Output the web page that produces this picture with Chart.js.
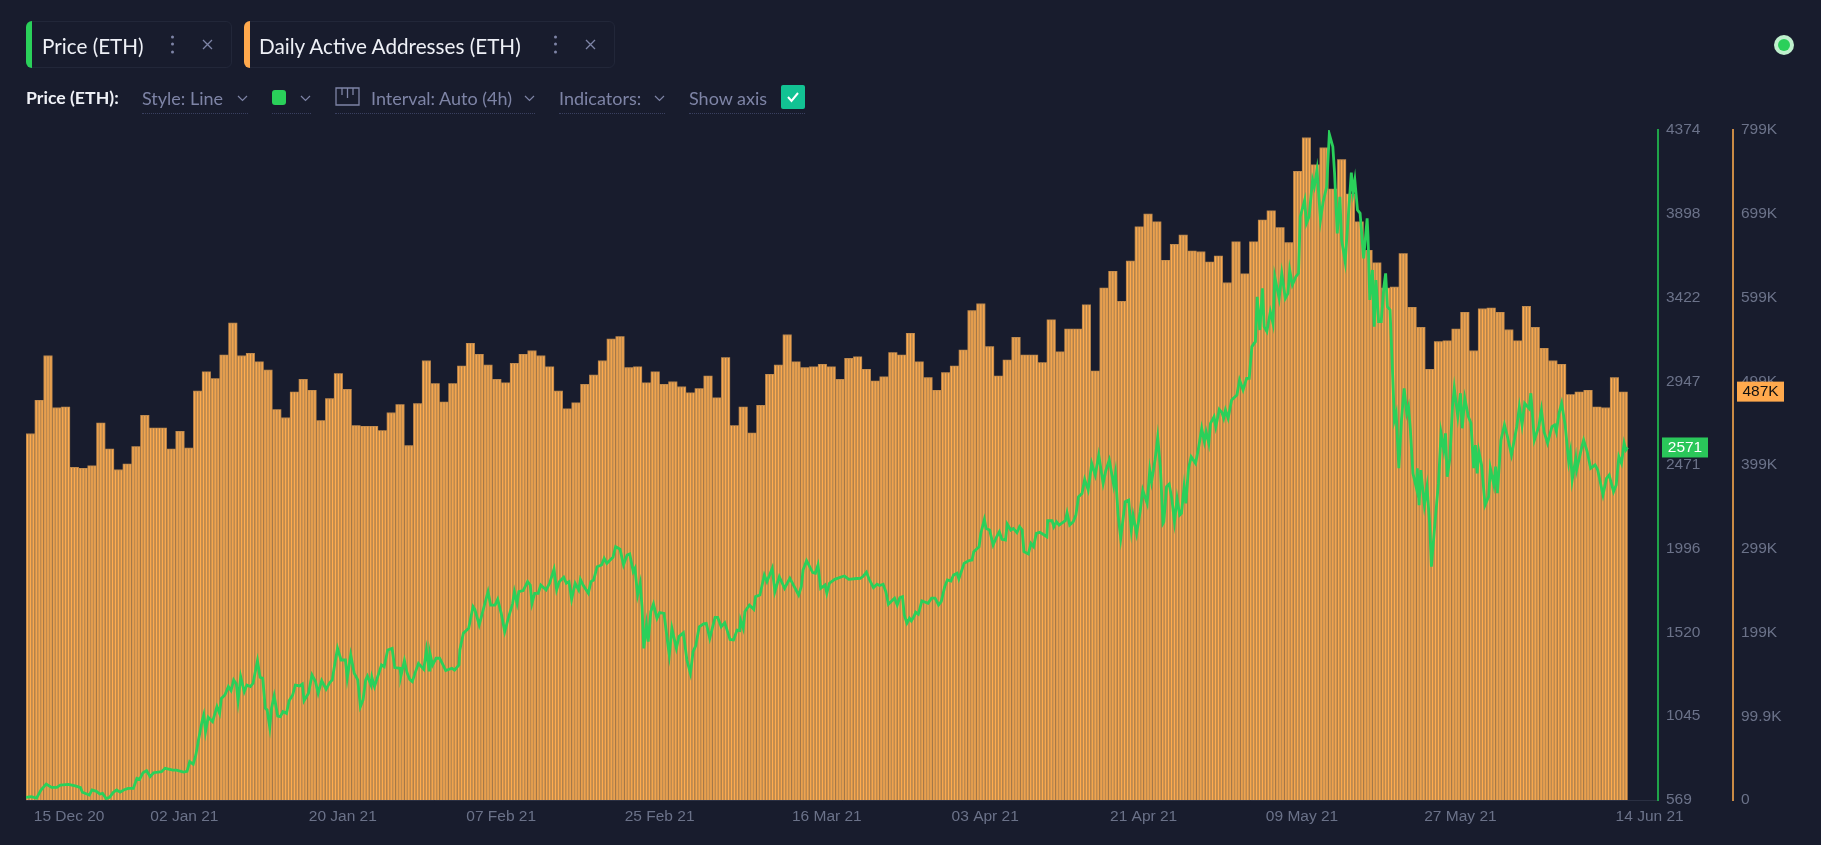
<!DOCTYPE html>
<html>
<head>
<meta charset="utf-8">
<title>Price (ETH) / Daily Active Addresses (ETH)</title>
<script src="https://cdn.jsdelivr.net/npm/chart.js@4"></script>
<style>
  html, body { margin: 0; padding: 0; background: #181c2d; overflow: hidden; }
  #wrap { position: relative; width: 1821px; height: 845px; font-family: Lato, sans-serif; border-left: 0; }
  #chart { position: absolute; left: 0; top: 0; }
  .abs { position: absolute; white-space: nowrap; }
  .chip { position: absolute; top: 21px; height: 47px; border: 1px solid #222739; border-radius: 6px; box-sizing: border-box; }
  .chip i { position: absolute; left: -1px; top: -1px; bottom: -1px; width: 6px; border-radius: 6px 0 0 6px; }
  .title { color: #eef0f6; font-size: 20.7px; top: 34px; line-height: 24px; }
  .ctl { color: #7e84a6; font-size: 18px; top: 87px; line-height: 22px; }
  .under { position: absolute; top: 113px; height: 0; border-top: 1px dotted #3a4060; }
  svg { position: absolute; }
</style>
</head>
<body>
<div id="wrap">
  <canvas id="chart" width="1821" height="845"></canvas>

  <div class="chip" style="left:26px;width:206px"><i style="background:#2ad05a"></i></div>
  <div class="abs title" style="left:42px">Price (ETH)</div>
  <svg style="left:170px;top:34px" width="5" height="22"><circle cx="2.5" cy="3" r="1.5" fill="#7e84a6"/><circle cx="2.5" cy="10" r="1.5" fill="#7e84a6"/><circle cx="2.5" cy="18" r="1.5" fill="#7e84a6"/></svg>
  <svg style="left:202px;top:39px" width="11" height="11"><path d="M1 1L10 10M10 1L1 10" stroke="#7e84a6" stroke-width="1.3"/></svg>

  <div class="chip" style="left:244px;width:371px"><i style="background:#ffa94d"></i></div>
  <div class="abs title" style="left:259px">Daily Active Addresses (ETH)</div>
  <svg style="left:553px;top:34px" width="5" height="22"><circle cx="2.5" cy="3" r="1.5" fill="#7e84a6"/><circle cx="2.5" cy="10" r="1.5" fill="#7e84a6"/><circle cx="2.5" cy="18" r="1.5" fill="#7e84a6"/></svg>
  <svg style="left:585px;top:39px" width="11" height="11"><path d="M1 1L10 10M10 1L1 10" stroke="#7e84a6" stroke-width="1.3"/></svg>

  <div class="abs ctl" style="left:26px;color:#eef0f6;font-weight:700;font-size:17.7px">Price (ETH):</div>
  <div class="abs ctl" style="left:142px">Style: Line</div>
  <svg style="left:237px;top:95px" width="11" height="7"><path d="M1 1L5.5 5.5L10 1" fill="none" stroke="#7e84a6" stroke-width="1.2"/></svg>
  <div class="under" style="left:142px;width:106px"></div>
  <div class="abs" style="left:272px;top:90px;width:14px;height:15px;border-radius:3px;background:#2ad05a"></div>
  <svg style="left:300px;top:95px" width="11" height="7"><path d="M1 1L5.5 5.5L10 1" fill="none" stroke="#7e84a6" stroke-width="1.2"/></svg>
  <div class="under" style="left:272px;width:39px"></div>
  <svg style="left:335px;top:87px" width="25" height="19"><path d="M1 1H24V18H1Z M7 1V8 M12.5 1V11 M18 1V8" fill="none" stroke="#7e84a6" stroke-width="1.3"/></svg>
  <div class="abs ctl" style="left:371px">Interval: Auto (4h)</div>
  <svg style="left:524px;top:95px" width="11" height="7"><path d="M1 1L5.5 5.5L10 1" fill="none" stroke="#7e84a6" stroke-width="1.2"/></svg>
  <div class="under" style="left:335px;width:200px"></div>
  <div class="abs ctl" style="left:559px">Indicators:</div>
  <svg style="left:654px;top:95px" width="11" height="7"><path d="M1 1L5.5 5.5L10 1" fill="none" stroke="#7e84a6" stroke-width="1.2"/></svg>
  <div class="under" style="left:559px;width:106px"></div>
  <div class="abs ctl" style="left:689px">Show axis</div>
  <div class="abs" style="left:781px;top:85px;width:24px;height:24px;border-radius:2px;background:#12c293"></div>
  <svg style="left:786px;top:91px" width="14" height="12"><path d="M2 6L5.5 10L12 2" fill="none" stroke="#ffffff" stroke-width="2"/></svg>
  <div class="under" style="left:689px;width:116px"></div>

  <div class="abs" style="left:1774px;top:35px;width:20px;height:20px;border-radius:50%;background:#bff0cd"></div>
  <div class="abs" style="left:1778px;top:39px;width:12px;height:12px;border-radius:50%;background:#2ad05a"></div>
</div>
<script>
// time axis labels, positions in days after 15 Dec 20
const tickLabels = ['15 Dec 20', '02 Jan 21', '20 Jan 21', '07 Feb 21', '25 Feb 21', '16 Mar 21', '03 Apr 21', '21 Apr 21', '09 May 21', '27 May 21', '14 Jun 21'];
const tickDays = [4.9, 18, 36, 54, 72, 91, 109, 127, 145, 163, 184.5];

const priceTicks = [569, 1045, 1520, 1996, 2471, 2947, 3422, 3898, 4374];
const addressTicks = [0, 99.9, 199.8, 299.6, 399.5, 499.4, 599.3, 699.1, 799];
const addressTickLabels = ['0', '99.9K', '199K', '299K', '399K', '499K', '599K', '699K', '799K'];

// daily active addresses, thousands, one per day from 15 Dec 20
const dailyAddresses = [
  437, 477, 530, 468, 469, 397, 396, 399, 450, 419, 394, 401, 422, 459, 444, 444, 419, 440, 420, 488,
  511, 503, 531, 569, 530, 533, 523, 513, 466, 456, 487, 502, 489, 453, 479, 509, 490, 447, 446, 446,
  441, 462, 472, 423, 473, 524, 497, 475, 497, 518, 545, 532, 519, 502, 498, 521, 532, 536, 530, 517,
  488, 467, 474, 496, 507, 524, 550, 553, 516, 517, 498, 511, 496, 499, 493, 486, 491, 506, 480, 528,
  447, 469, 438, 471, 508, 519, 555, 523, 516, 517, 520, 517, 502, 527, 529, 514, 500, 505, 534, 531,
  557, 523, 504, 489, 510, 518, 537, 584, 592, 541, 506, 525, 552, 531, 531, 522, 573, 535, 562, 562,
  591, 512, 611, 631, 595, 643, 684, 699, 690, 644, 663, 674, 655, 654, 642, 649, 617, 666, 628, 666,
  692, 703, 683, 665, 750, 790, 758, 778, 729, 764, 723, 690, 656, 641, 611, 612, 652, 588, 564, 514,
  547, 548, 562, 582, 536, 586, 587, 582, 561, 548, 589, 564, 539, 524, 520, 484, 487, 489, 469, 468,
  504, 487
];

// price line: day after 15 Dec 20 and price
const priceDays = [
  0, 0.6, 1.2, 1.7, 2.3, 2.9, 3.5, 3.9, 4.8, 5.6,
  6.2, 6.4, 7.2, 7.5, 8.0, 8.4, 8.7, 9.1, 9.5, 9.9,
  10.3, 10.7, 11.1, 11.6, 12.2, 12.6, 12.9, 13.3, 13.7, 14.1,
  14.5, 15.4, 15.8, 16.7, 17.1, 17.9, 18.3, 18.6, 19.0, 19.3,
  19.6, 20.0, 20.2, 20.4, 20.7, 21.2, 21.7, 22.0, 22.2, 22.6,
  23.0, 23.3, 23.6, 23.9, 24.1, 24.4, 24.8, 25.1, 25.5, 25.8,
  26.3, 26.6, 26.9, 27.2, 27.4, 27.7, 27.9, 28.2, 28.6, 28.9,
  29.2, 29.6, 29.9, 30.3, 30.6, 31.1, 31.4, 31.6, 32.1, 32.5,
  32.9, 33.2, 33.6, 34.1, 34.5, 34.8, 35.1, 35.4, 35.8, 36.3,
  36.5, 36.9, 37.3, 37.7, 38.0, 38.3, 38.6, 38.8, 39.2, 39.3,
  39.6, 39.9, 40.4, 40.7, 41.1, 41.6, 41.9, 42.5, 42.6, 43.0,
  43.3, 43.6, 43.9, 44.2, 44.6, 45.2, 45.5, 45.8, 45.9, 46.2,
  46.6, 47.0, 47.3, 47.7, 48.4, 48.7, 49.2, 49.3, 49.7, 50.3,
  50.8, 51.0, 51.5, 52.0, 52.5, 52.8, 53.3, 53.6, 54.0, 54.4,
  54.8, 55.3, 55.5, 55.8, 56.0, 56.5, 57.0, 57.3, 57.5, 57.8,
  58.2, 58.5, 59.1, 59.5, 60.0, 60.3, 60.6, 61.1, 61.4, 61.7,
  62.0, 62.4, 62.8, 63.0, 63.3, 63.9, 64.2, 64.5, 64.9, 65.4,
  65.7, 66.0, 66.7, 67.0, 67.5, 67.9, 68.3, 68.6, 69.0, 69.2,
  69.5, 69.8, 70.0, 70.2, 70.5, 70.7, 71.0, 71.3, 71.7, 72.0,
  72.5, 72.9, 73.1, 73.4, 73.9, 74.2, 74.7, 75.1, 75.5, 75.8,
  76.1, 76.5, 77.0, 77.3, 77.7, 78.3, 78.6, 79.0, 79.4, 80.0,
  80.4, 80.8, 81.1, 81.2, 81.5, 81.7, 82.2, 82.7, 82.9, 83.4,
  83.9, 84.2, 84.8, 85.1, 85.6, 86.2, 86.8, 87.3, 87.8, 88.1,
  88.3, 88.7, 89.4, 89.7, 90.0, 90.3, 90.8, 91.0, 91.3, 91.9,
  92.7, 93.0, 93.5, 94.4, 94.8, 95.1, 95.5, 95.8, 96.3, 96.7,
  97.0, 97.4, 97.7, 98.0, 98.4, 98.7, 99.0, 99.3, 99.6, 99.8,
  100.1, 100.4, 100.6, 100.9, 101.1, 101.4, 101.8, 102.2, 102.5, 102.9,
  103.3, 103.7, 104.0, 104.4, 104.7, 105.1, 105.4, 105.8, 106.0, 106.6,
  107.1, 107.5, 107.7, 108.3, 108.5, 108.9, 109.1, 109.5, 109.9, 110.3,
  110.6, 110.9, 111.3, 111.5, 111.9, 112.2, 112.6, 112.9, 113.2, 113.4,
  113.9, 114.2, 114.5, 114.8, 115.2, 115.7, 116.0, 116.1, 116.6, 116.8,
  117.1, 117.4, 118.1, 118.3, 118.6, 119.0, 119.3, 119.6, 120.0, 120.3,
  120.7, 121.1, 121.5, 121.9, 122.4, 122.7, 123.1, 123.6, 123.8, 124.1,
  124.4, 124.9, 125.3, 125.6, 125.8, 126.2, 126.6, 126.9, 127.4, 127.7,
  127.9, 128.3, 128.6, 128.9, 129.2, 129.3, 129.6, 129.9, 130.2, 130.5,
  130.8, 131.1, 131.3, 131.6, 131.8, 132.1, 132.4, 132.9, 133.2, 133.6,
  133.9, 134.1, 134.4, 134.6, 135.0, 135.2, 135.6, 135.9, 136.1, 136.3,
  136.6, 137.0, 137.6, 137.9, 138.3, 138.7, 139.0, 139.3, 139.7, 139.9,
  140.2, 140.5, 140.7, 141.0, 141.4, 141.7, 141.9, 142.4, 142.7, 143.1,
  143.4, 143.6, 143.9, 144.3, 144.6, 144.8, 145.3, 145.5, 145.8, 146.2,
  146.4, 146.7, 147.1, 147.4, 147.8, 148.1, 148.5, 148.7, 149.0, 149.3,
  149.5, 149.9, 150.6, 150.8, 151.0, 151.3, 151.6, 152.0, 152.4, 152.5,
  152.7, 153.0, 153.2, 153.4, 153.7, 154.0, 154.3, 154.5, 154.7, 155.0,
  155.2, 155.5, 155.7, 156.0, 156.3, 156.6, 156.9, 157.1, 157.3, 157.6,
  158.0, 158.1, 158.3, 158.5, 158.9, 159.2, 159.5, 159.7, 160.1, 160.5,
  160.8, 161.1, 161.3, 161.5, 161.8, 162.1, 162.3, 162.7, 163.0, 163.2,
  163.5, 163.9, 164.2, 164.5, 164.7, 164.9, 165.1, 165.4, 165.8, 166.2,
  166.4, 166.8, 167.0, 167.2, 167.6, 168.0, 168.3, 168.8, 169.4, 169.7,
  170.0, 170.3, 170.8, 171.0, 171.4, 171.9, 172.2, 172.5, 172.9, 173.4,
  173.7, 173.9, 174.2, 174.5, 174.9, 175.3, 175.5, 175.7, 176.1, 176.2,
  176.8, 177.0, 177.4, 177.8, 178.3, 178.6, 179.2, 179.6, 179.9, 180.4,
  180.7, 181.0, 181.3, 181.6, 181.8, 182.0
];
const priceValues = [
  584, 588, 580, 626, 660, 641, 641, 654, 658, 649,
  639, 613, 597, 626, 618, 603, 607, 577, 584, 611,
  626, 614, 626, 635, 635, 692, 686, 724, 736, 702,
  724, 730, 749, 739, 739, 728, 732, 787, 772, 825,
  910, 1014, 1052, 957, 1039, 1014, 1099, 1061, 1146, 1165,
  1213, 1190, 1251, 1228, 1133, 1269, 1184, 1222, 1213, 1232,
  1360, 1266, 1260, 1090, 1080, 982, 1090, 1160, 1046, 1042,
  1071, 1061, 1133, 1165, 1222, 1217, 1228, 1133, 1175, 1279,
  1241, 1175, 1247, 1198, 1235, 1251, 1345, 1430, 1364, 1364,
  1260, 1393, 1288, 1251, 1099, 1137, 1251, 1273, 1222, 1266,
  1213, 1260, 1336, 1326, 1421, 1430, 1321, 1317, 1273, 1360,
  1292, 1254, 1241, 1288, 1345, 1311, 1421, 1307, 1402, 1336,
  1374, 1374, 1345, 1304, 1317, 1307, 1336, 1421, 1516, 1544,
  1667, 1652, 1563, 1658, 1752, 1676, 1676, 1709, 1629, 1525,
  1601, 1686, 1752, 1686, 1752, 1758, 1809, 1790, 1686, 1743,
  1743, 1790, 1762, 1800, 1879, 1762, 1809, 1834, 1800, 1809,
  1709, 1800, 1762, 1822, 1790, 1743, 1809, 1818, 1894, 1904,
  1941, 1913, 1947, 2008, 1993, 1904, 1960, 1966, 1866, 1885,
  1733, 1800, 1667, 1430, 1563, 1468, 1639, 1682, 1601, 1633,
  1629, 1468, 1393, 1544, 1430, 1497, 1519, 1364, 1288, 1411,
  1444, 1553, 1569, 1572, 1487, 1606, 1606, 1553, 1576, 1481,
  1478, 1534, 1531, 1591, 1544, 1639, 1676, 1652, 1724, 1733,
  1847, 1809, 1885, 1752, 1837, 1771, 1828, 1781, 1733, 1781,
  1875, 1928, 1860, 1856, 1904, 1771, 1790, 1743, 1800, 1822,
  1837, 1841, 1822, 1827, 1828, 1838, 1862, 1824, 1775, 1794,
  1787, 1794, 1753, 1681, 1700, 1715, 1677, 1719, 1724, 1620,
  1573, 1601, 1586, 1611, 1635, 1624, 1700, 1692, 1686, 1715,
  1715, 1677, 1696, 1781, 1819, 1813, 1847, 1857, 1824, 1913,
  1928, 1932, 1979, 2007, 2083, 2162, 2111, 2102, 2017, 2064,
  2092, 2049, 2045, 2136, 2102, 2111, 2087, 2121, 2102, 1979,
  1966, 2026, 2007, 2083, 2089, 2074, 2064, 2155, 2155, 2121,
  2149, 2130, 2155, 2200, 2130, 2149, 2187, 2291, 2310, 2390,
  2329, 2481, 2414, 2528, 2367, 2439, 2500, 2357, 2424, 2187,
  2055, 2263, 2272, 2102, 2187, 2083, 2206, 2329, 2253, 2443,
  2376, 2500, 2628, 2462, 2140, 2149, 2348, 2363, 2282, 2149,
  2282, 2187, 2197, 2348, 2253, 2452, 2518, 2481, 2556, 2679,
  2604, 2660, 2594, 2708, 2746, 2689, 2787, 2769, 2737, 2784,
  2737, 2841, 2869, 2954, 2897, 2964, 2964, 3144, 3172, 3427,
  3238, 3475, 3257, 3229, 3342, 3276, 3541, 3418, 3560, 3418,
  3446, 3579, 3494, 3541, 3560, 3882, 3976, 3844, 3882, 4090,
  4052, 4147, 3863, 3967, 4052, 4351, 4279, 4128, 3787, 3995,
  3749, 3626, 4132, 4024, 4090, 3920, 3901, 3645, 3872, 3768,
  3409, 3579, 3257, 3522, 3286, 3286, 3484, 3560, 3371, 3352,
  3106, 2727, 2765, 2453, 2727, 2907, 2765, 2803, 2680, 2424,
  2339, 2453, 2244, 2443, 2244, 2348, 2140, 1894, 2140, 2367,
  2651, 2557, 2651, 2405, 2509, 2803, 2907, 2746, 2879, 2680,
  2850, 2746, 2708, 2453, 2585, 2424, 2547, 2472, 2244, 2292,
  2453, 2358, 2462, 2311, 2613, 2699, 2642, 2528, 2689, 2803,
  2699, 2822, 2793, 2879, 2613, 2689, 2784, 2661, 2595, 2689,
  2699, 2661, 2765, 2822, 2699, 2490, 2547, 2386, 2509, 2443,
  2576, 2613, 2547, 2453, 2472, 2443, 2301, 2396, 2415, 2320,
  2358, 2519, 2481, 2595, 2557, 2571
];

const green = '#2ad05a';
const orange = '#ffa94d';
const tickColor = '#6b7289';
const tickFont = { family: 'Liberation Sans, Arial, sans-serif', size: 15.5 };

// each day is a solid bar with three thin bright bars on top, that gives the striped look
const stripesPerDay = 3;
const dayBars = dailyAddresses.map((v, i) => ({ x: i + 0.5, y: v }));
const stripeBars = [];
dailyAddresses.forEach((v, i) => {
    for (let s = 0; s < stripesPerDay; s++)
        stripeBars.push({ x: i + (s + 0.5) / stripesPerDay, y: v - 1 });
});
const lineData = priceDays.map((d, i) => ({ x: d, y: priceValues[i] }));

// the two value tags on the axes
const lastValueTags = {
    id: 'lastValueTags',
    afterDraw(chart) {
        const ctx = chart.ctx;
        const tag = (text, scale, value, x, w, bg, fg) => {
            const y = scale.getPixelForValue(value);
            ctx.save();
            ctx.fillStyle = bg;
            ctx.fillRect(x, y - 10, w, 20);
            ctx.fillStyle = fg;
            ctx.font = '15.5px "Liberation Sans", Arial, sans-serif';
            ctx.textAlign = 'center';
            ctx.textBaseline = 'middle';
            ctx.fillText(text, x + w / 2, y + 0.5);
            ctx.restore();
        };
        const lastPrice = priceValues[priceValues.length - 1];
        const lastAddr = dailyAddresses[dailyAddresses.length - 1];
        tag(String(lastPrice), chart.scales.y, lastPrice, 1662, 46, '#2ac75a', '#ffffff');
        tag(lastAddr + 'K', chart.scales.y1, lastAddr, 1737, 47, orange, '#111111');
    }
};

new Chart(document.getElementById('chart'), {
    data: {
        datasets: [
            {
                type: 'line',
                label: 'Price (ETH)',
                data: lineData,
                yAxisID: 'y',
                borderColor: green,
                borderWidth: 2.8,
                pointRadius: 0,
                tension: 0,
                order: 0
            },
            {
                type: 'bar',
                label: 'Daily Active Addresses (ETH)',
                data: stripeBars,
                yAxisID: 'y1',
                backgroundColor: '#ffac4f',
                inflateAmount: 0,
                grouped: false,
                barThickness: 1.1,
                order: 1
            },
            {
                type: 'bar',
                label: 'Daily Active Addresses (ETH) base',
                data: dayBars,
                yAxisID: 'y1',
                backgroundColor: '#bf8a4e',
                inflateAmount: 0,
                grouped: false,
                barThickness: 9,
                order: 2
            }
        ]
    },
    plugins: [lastValueTags],
    options: {
        responsive: false,
        animation: false,
        devicePixelRatio: 1,
        layout: { padding: { left: 26, top: 130, right: 0, bottom: 0 } },
        plugins: { legend: { display: false }, tooltip: { enabled: false } },
        scales: {
            x: {
                type: 'linear',
                offset: false,
                min: 0,
                max: 185.45,
                grid: { display: false, drawTicks: false, offset: false },
                border: { color: '#2a2f42', width: 1 },
                afterBuildTicks(scale) { scale.ticks = tickDays.map(v => ({ value: v })); },
                afterFit(scale) { scale.height = 45; },
                ticks: {
                    autoSkip: false,
                    maxRotation: 0,
                    padding: 7,
                    color: tickColor,
                    font: tickFont,
                    callback(value, i) { return tickLabels[i]; }
                }
            },
            y: {
                position: 'right',
                min: 569,
                max: 4374,
                grid: { display: false, drawTicks: false },
                border: { color: '#1fa349', width: 2 },
                afterBuildTicks(scale) { scale.ticks = priceTicks.map(v => ({ value: v })); },
                afterFit(scale) { scale.width = 75; },
                ticks: { padding: 8, color: tickColor, font: tickFont, callback(value) { return String(value); } }
            },
            y1: {
                position: 'right',
                min: 0,
                max: 799,
                grid: { display: false, drawTicks: false },
                border: { color: '#c98a45', width: 2 },
                afterBuildTicks(scale) { scale.ticks = addressTicks.map(v => ({ value: v })); },
                afterFit(scale) { scale.width = 88; },
                ticks: { padding: 8, color: tickColor, font: tickFont, callback(value, i) { return addressTickLabels[i]; } }
            }
        }
    }
});
</script>
</body>
</html>
